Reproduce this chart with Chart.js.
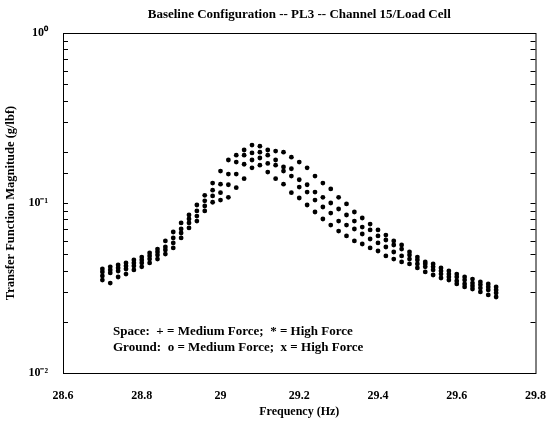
<!DOCTYPE html>
<html>
<head>
<meta charset="utf-8">
<script src="https://cdn.jsdelivr.net/npm/chart.js@4.4.1/dist/chart.umd.min.js"></script>
<style>
  html, body { margin: 0; padding: 0; background: #fff; }
</style>
</head>
<body>
<canvas id="tf-chart" width="554" height="423"></canvas>
<script>
// frequency grid (Hz)
var freq = [28.70, 28.72, 28.74, 28.76, 28.78, 28.80, 28.82, 28.84, 28.86, 28.88,
            28.90, 28.92, 28.94, 28.96, 28.98, 29.00, 29.02, 29.04, 29.06, 29.08,
            29.10, 29.12, 29.14, 29.16, 29.18, 29.20, 29.22, 29.24, 29.26, 29.28,
            29.30, 29.32, 29.34, 29.36, 29.38, 29.40, 29.42, 29.44, 29.46, 29.48,
            29.50, 29.52, 29.54, 29.56, 29.58, 29.60, 29.62, 29.64, 29.66, 29.68, 29.70];

// transfer function magnitude (g/lbf)
var spaceHigh = [.0409, .0421, .0432, .0444, .0462, .0481, .0508, .0536, .0598, .0675,
                 .0763, .0850, .0973, .111, .131, .154, .179, .191, .205, .219,
                 .216, .205, .202, .199, .186, .174, .161, .144, .131, .121,
                 .108, .0987, .0885, .0816, .0752, .0694, .0648, .0598, .0566, .0515,
                 .0481, .0450, .0438, .0415, .0398, .0382, .0367, .0357, .0343, .0334, .0321];
var spaceMedium = [.0393, .0404, .0415, .0426, .0444, .0462, .0488, .0515, .0551, .0623,
                   .0703, .0805, .0898, .103, .119, .129, .148, .174, .191, .197,
                   .199, .191, .179, .163, .159, .137, .128, .116, .108, .100,
                   .0922, .0850, .0783, .0722, .0694, .0640, .0606, .0566, .0536, .0494,
                   .0462, .0438, .0421, .0398, .0382, .0367, .0352, .0338, .0330, .0321, .0308];
var groundMedium = [.0372, .0388, .0398, .0409, .0426, .0444, .0468, .0494, .0529, .0582,
                    .0666, .0763, .0838, .0960, .110, .115, .128, .148, .169, .179,
                    .184, .171, .167, .154, .144, .124, .116, .104, .0947, .0873,
                    .0783, .0742, .0703, .0657, .0614, .0582, .0551, .0515, .0488, .0468,
                    .0438, .0421, .0404, .0382, .0367, .0348, .0334, .0325, .0316, .0308, .0296];
var groundHigh = [.0352, .0338, .0367, .0382, .0404, .0421, .0444, .0468, .0501, .0544,
                  .0623, .0713, .0783, .0898, .101, .104, .108, .123, .139, .161,
                  .167, .152, .139, .129, .115, .107, .0973, .0885, .0805, .0742,
                  .0684, .0640, .0598, .0574, .0544, .0522, .0488, .0468, .0450, .0438,
                  .0415, .0393, .0377, .0362, .0352, .0334, .0321, .0312, .0300, .0288, .0280];

var xTickLabels = ['28.6', '28.8', '29', '29.2', '29.4', '29.6', '29.8'];
var yTickLabels = ['10\u207B\u00B2', '10\u207B\u00B9', '10\u2070']; // 1e-2, 1e-1, 1e0
var chartTitle = 'Baseline Configuration -- PL3 -- Channel 15/Load Cell';
var notes = ['Space:  + = Medium Force;  * = High Force',
             'Ground:  o = Medium Force;  x = High Force'];

var serif = '"Liberation Serif", "Times New Roman", serif';

function toPoints(vals) {
    return freq.map(function(f, i) { return {x: f, y: vals[i]}; });
}

function series(label, vals) {
    return {
        label: label,
        data: toPoints(vals),
        pointRadius: 2.4,
        pointBorderWidth: 0,
        backgroundColor: '#000',
        borderColor: '#000',
        showLine: false
    };
}

// box round the plot, inward ticks on the log axis, title over the plot, notes text
var frame = {
    id: 'frame',
    afterDatasetsDraw: function(chart) {
        var ctx = chart.ctx, a = chart.chartArea, ys = chart.scales.y;
        ctx.save();
        ctx.strokeStyle = '#000';
        ctx.lineWidth = 1;
        ctx.strokeRect(a.left + 0.5, a.top + 0.5, a.right - a.left, a.bottom - a.top);
        ys.ticks.forEach(function(t) {
            var py = Math.round(ys.getPixelForValue(t.value)) + 0.5;
            ctx.beginPath();
            ctx.moveTo(a.left, py); ctx.lineTo(a.left + 5, py);
            ctx.moveTo(a.right, py); ctx.lineTo(a.right - 5, py);
            ctx.stroke();
        });
        ctx.fillStyle = '#000';
        ctx.textBaseline = 'middle';
        ctx.font = 'bold 13px ' + serif;
        ctx.textAlign = 'center';
        ctx.fillText(chartTitle, (a.left + a.right) / 2, a.top - 18);
        ctx.textAlign = 'left';
        ctx.fillText(notes[0], a.left + 50, a.bottom - 41);
        ctx.fillText(notes[1], a.left + 50, a.bottom - 25);
        ctx.restore();
    }
};

var ctx = document.getElementById('tf-chart').getContext('2d');
var chart = new Chart(ctx, {
    type: 'scatter',
    data: {
        datasets: [
            series('Space, High Force', spaceHigh),
            series('Space, Medium Force', spaceMedium),
            series('Ground, Medium Force', groundMedium),
            series('Ground, High Force', groundHigh)
        ]
    },
    options: {
        responsive: false,
        animation: false,
        layout: { padding: { top: 33, right: 12 } },
        plugins: {
            legend: { display: false },
            tooltip: { enabled: false },
            title: { display: false }
        },
        scales: {
            x: {
                type: 'linear',
                min: 28.6,
                max: 29.8,
                grid: { display: false },
                border: { display: false },
                ticks: {
                    stepSize: 0.2,
                    padding: 8,
                    color: '#000',
                    font: { family: serif, size: 12, weight: 'bold' },
                    callback: function(v, i) { return xTickLabels[i]; }
                },
                title: {
                    display: true,
                    text: 'Frequency (Hz)',
                    color: '#000',
                    font: { family: serif, size: 12, weight: 'bold' },
                    padding: { top: 0, bottom: 4 }
                },
                afterFit: function(s) { s.height = 50; }
            },
            y: {
                type: 'logarithmic',
                min: 0.01,
                max: 1,
                grid: { display: false },
                border: { display: false },
                ticks: {
                    autoSkip: false,
                    padding: 7,
                    color: '#000',
                    font: { family: serif, size: 12, weight: 'bold' },
                    callback: function(v) {
                        var e = Math.log10(v);
                        if (Math.abs(e - Math.round(e)) < 1e-6) return yTickLabels[Math.round(e) + 2];
                        return '';
                    }
                },
                title: {
                    display: true,
                    text: 'Transfer Function Magnitude (g/lbf)',
                    color: '#000',
                    font: { family: serif, size: 12.5, weight: 'bold' },
                    padding: { top: 3, bottom: 0 }
                },
                afterFit: function(s) { s.width = 63; }
            }
        }
    },
    plugins: [frame]
});
</script>
</body>
</html>
